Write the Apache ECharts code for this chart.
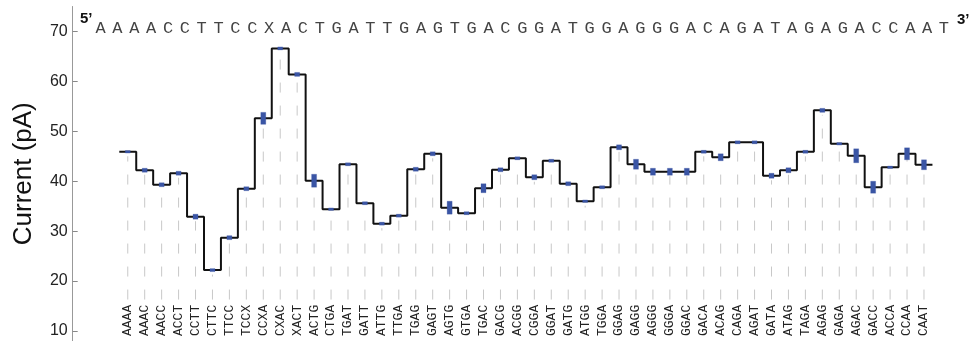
<!DOCTYPE html>
<html><head><meta charset="utf-8">
<script src="https://cdn.jsdelivr.net/npm/echarts@6/dist/echarts.min.js"></script>
<style>html,body{margin:0;padding:0;background:#fff}#c{width:977px;height:341px}</style>
</head><body><div id="c"></div>
<script>
const sequence = ['A','A','A','A','C','C','T','T','C','C','X','A','C','T','G','A','T','T','G','A','G','T','G','A','C','G','G','A','T','G','G','A','G','G','G','A','C','A','G','A','T','A','G','A','G','A','C','C','A','A','T'];
const kmers = ['AAAA','AAAC','AACC','ACCT','CCTT','CTTC','TTCC','TCCX','CCXA','CXAC','XACT','ACTG','CTGA','TGAT','GATT','ATTG','TTGA','TGAG','GAGT','AGTG','GTGA','TGAC','GACG','ACGG','CGGA','GGAT','GATG','ATGG','TGGA','GGAG','GAGG','AGGG','GGGA','GGAC','GACA','ACAG','CAGA','AGAT','GATA','ATAG','TAGA','AGAG','GAGA','AGAC','GACC','ACCA','CCAA','CAAT'];
const currents = [45.9,42.2,39.3,41.6,32.9,22.2,28.7,38.5,52.6,66.6,61.4,40.1,34.4,43.4,35.6,31.5,33.1,42.4,45.5,34.7,33.6,38.6,42.3,44.6,40.8,44.1,39.5,36.0,38.8,46.8,43.4,41.9,41.9,41.9,45.9,44.8,47.8,47.8,41.1,42.2,45.9,54.2,47.5,45.1,38.8,42.8,45.5,43.3];
const errors = [0.15,0.4,0.4,0.4,0.5,0.3,0.4,0.4,1.2,0.3,0.4,1.3,0.2,0.3,0.3,0.3,0.3,0.4,0.4,1.3,0.3,0.9,0.4,0.3,0.5,0.3,0.4,0.1,0.3,0.5,1.0,0.7,0.7,0.7,0.3,0.7,0.3,0.3,0.5,0.5,0.3,0.4,0.2,1.4,1.2,0.1,1.2,1.0];
const yTicks = [10,20,30,40,50,60,70];
const guideBottom = 16.3;

const stepData = [];
currents.forEach((v, i) => { stepData.push([i - 0.5, v]); stepData.push([i + 0.5, v]); });
const pointData = currents.map((v, i) => [i, v, errors[i]]);

const chart = echarts.init(document.getElementById('c'), null, {renderer: 'canvas'});
chart.setOption({
  animation: false,
  backgroundColor: '#fff',
  grid: [
    {left: 72.7, right: 2.2, top: 6.5, bottom: -0.5, containLabel: false},
    {left: 92.07, right: 24.6, top: 39, height: 4, containLabel: false}
  ],
  xAxis: [
    {type: 'value', gridIndex: 0, min: -3.25, max: 50,
     axisLine: {show: false, onZero: false}, axisTick: {show: false}, splitLine: {show: false},
     axisLabel: {customValues: kmers.map((k, i) => i), inside: true, rotate: 90, margin: 5,
       fontFamily: 'Liberation Mono', fontSize: 13, color: '#222',
       formatter: v => kmers[Math.round(v)] || ''}},
    {type: 'category', gridIndex: 1, data: sequence, boundaryGap: true, position: 'top',
     axisLine: {show: false}, axisTick: {show: false}, splitLine: {show: false},
     axisLabel: {interval: 0, margin: 2, fontFamily: 'Liberation Mono', fontSize: 17, color: '#444'}}
  ],
  yAxis: [
    {type: 'value', gridIndex: 0, min: 8, max: 75,
     axisLine: {show: true, onZero: false, lineStyle: {color: '#999', width: 1}},
     axisTick: {show: true, inside: true, length: 5, customValues: yTicks, lineStyle: {color: '#888'}},
     axisLabel: {customValues: yTicks, fontSize: 16, color: '#222', fontFamily: 'Liberation Sans', margin: 5},
     splitLine: {show: false},
     name: 'Current (pA)', nameLocation: 'middle', nameGap: 36,
     nameTextStyle: {fontSize: 26, fontFamily: 'Liberation Sans', color: '#111'}},
    {type: 'value', gridIndex: 1, show: false, min: 0, max: 1}
  ],
  graphic: [
    {type: 'text', left: 80, top: 11, style: {text: '5’', font: 'bold 15px "Liberation Sans"', fill: '#111'}},
    {type: 'text', left: 957, top: 12, style: {text: '3’', font: 'bold 15px "Liberation Sans"', fill: '#111'}}
  ],
  series: [
    {type: 'custom', xAxisIndex: 0, yAxisIndex: 0, z: 1, silent: true,
     data: pointData,
     renderItem: (params, api) => {
       const x = api.value(0), v = api.value(1);
       const p0 = api.coord([x, guideBottom]);
       const p1 = api.coord([x, v - 0.9]);
       return {type: 'line', shape: {x1: p0[0], y1: p0[1], x2: p1[0], y2: p1[1]},
         style: {stroke: '#c8c8c8', lineWidth: 1, lineDash: [10, 13]}};
     }},
    {type: 'line', xAxisIndex: 0, yAxisIndex: 0, z: 2, data: stepData, showSymbol: false, silent: true,
     lineStyle: {color: '#111', width: 2}},
    {type: 'custom', xAxisIndex: 0, yAxisIndex: 0, z: 3, silent: true,
     data: pointData,
     renderItem: (params, api) => {
       const x = api.value(0), v = api.value(1), e = api.value(2);
       const t = api.coord([x, v + e]), b = api.coord([x, v - e]);
       let h = b[1] - t[1];
       if (h < 2.5) h = 2.5;
       const cy = (t[1] + b[1]) / 2;
       return {type: 'rect', shape: {x: t[0] - 2.5, y: cy - h / 2, width: 5, height: h},
         style: {fill: '#3a55a5', stroke: 'rgba(58,85,165,0.25)', lineWidth: 1}};
     }},
    {type: 'line', xAxisIndex: 1, yAxisIndex: 1, data: [], silent: true}
  ]
});
</script></body></html>
